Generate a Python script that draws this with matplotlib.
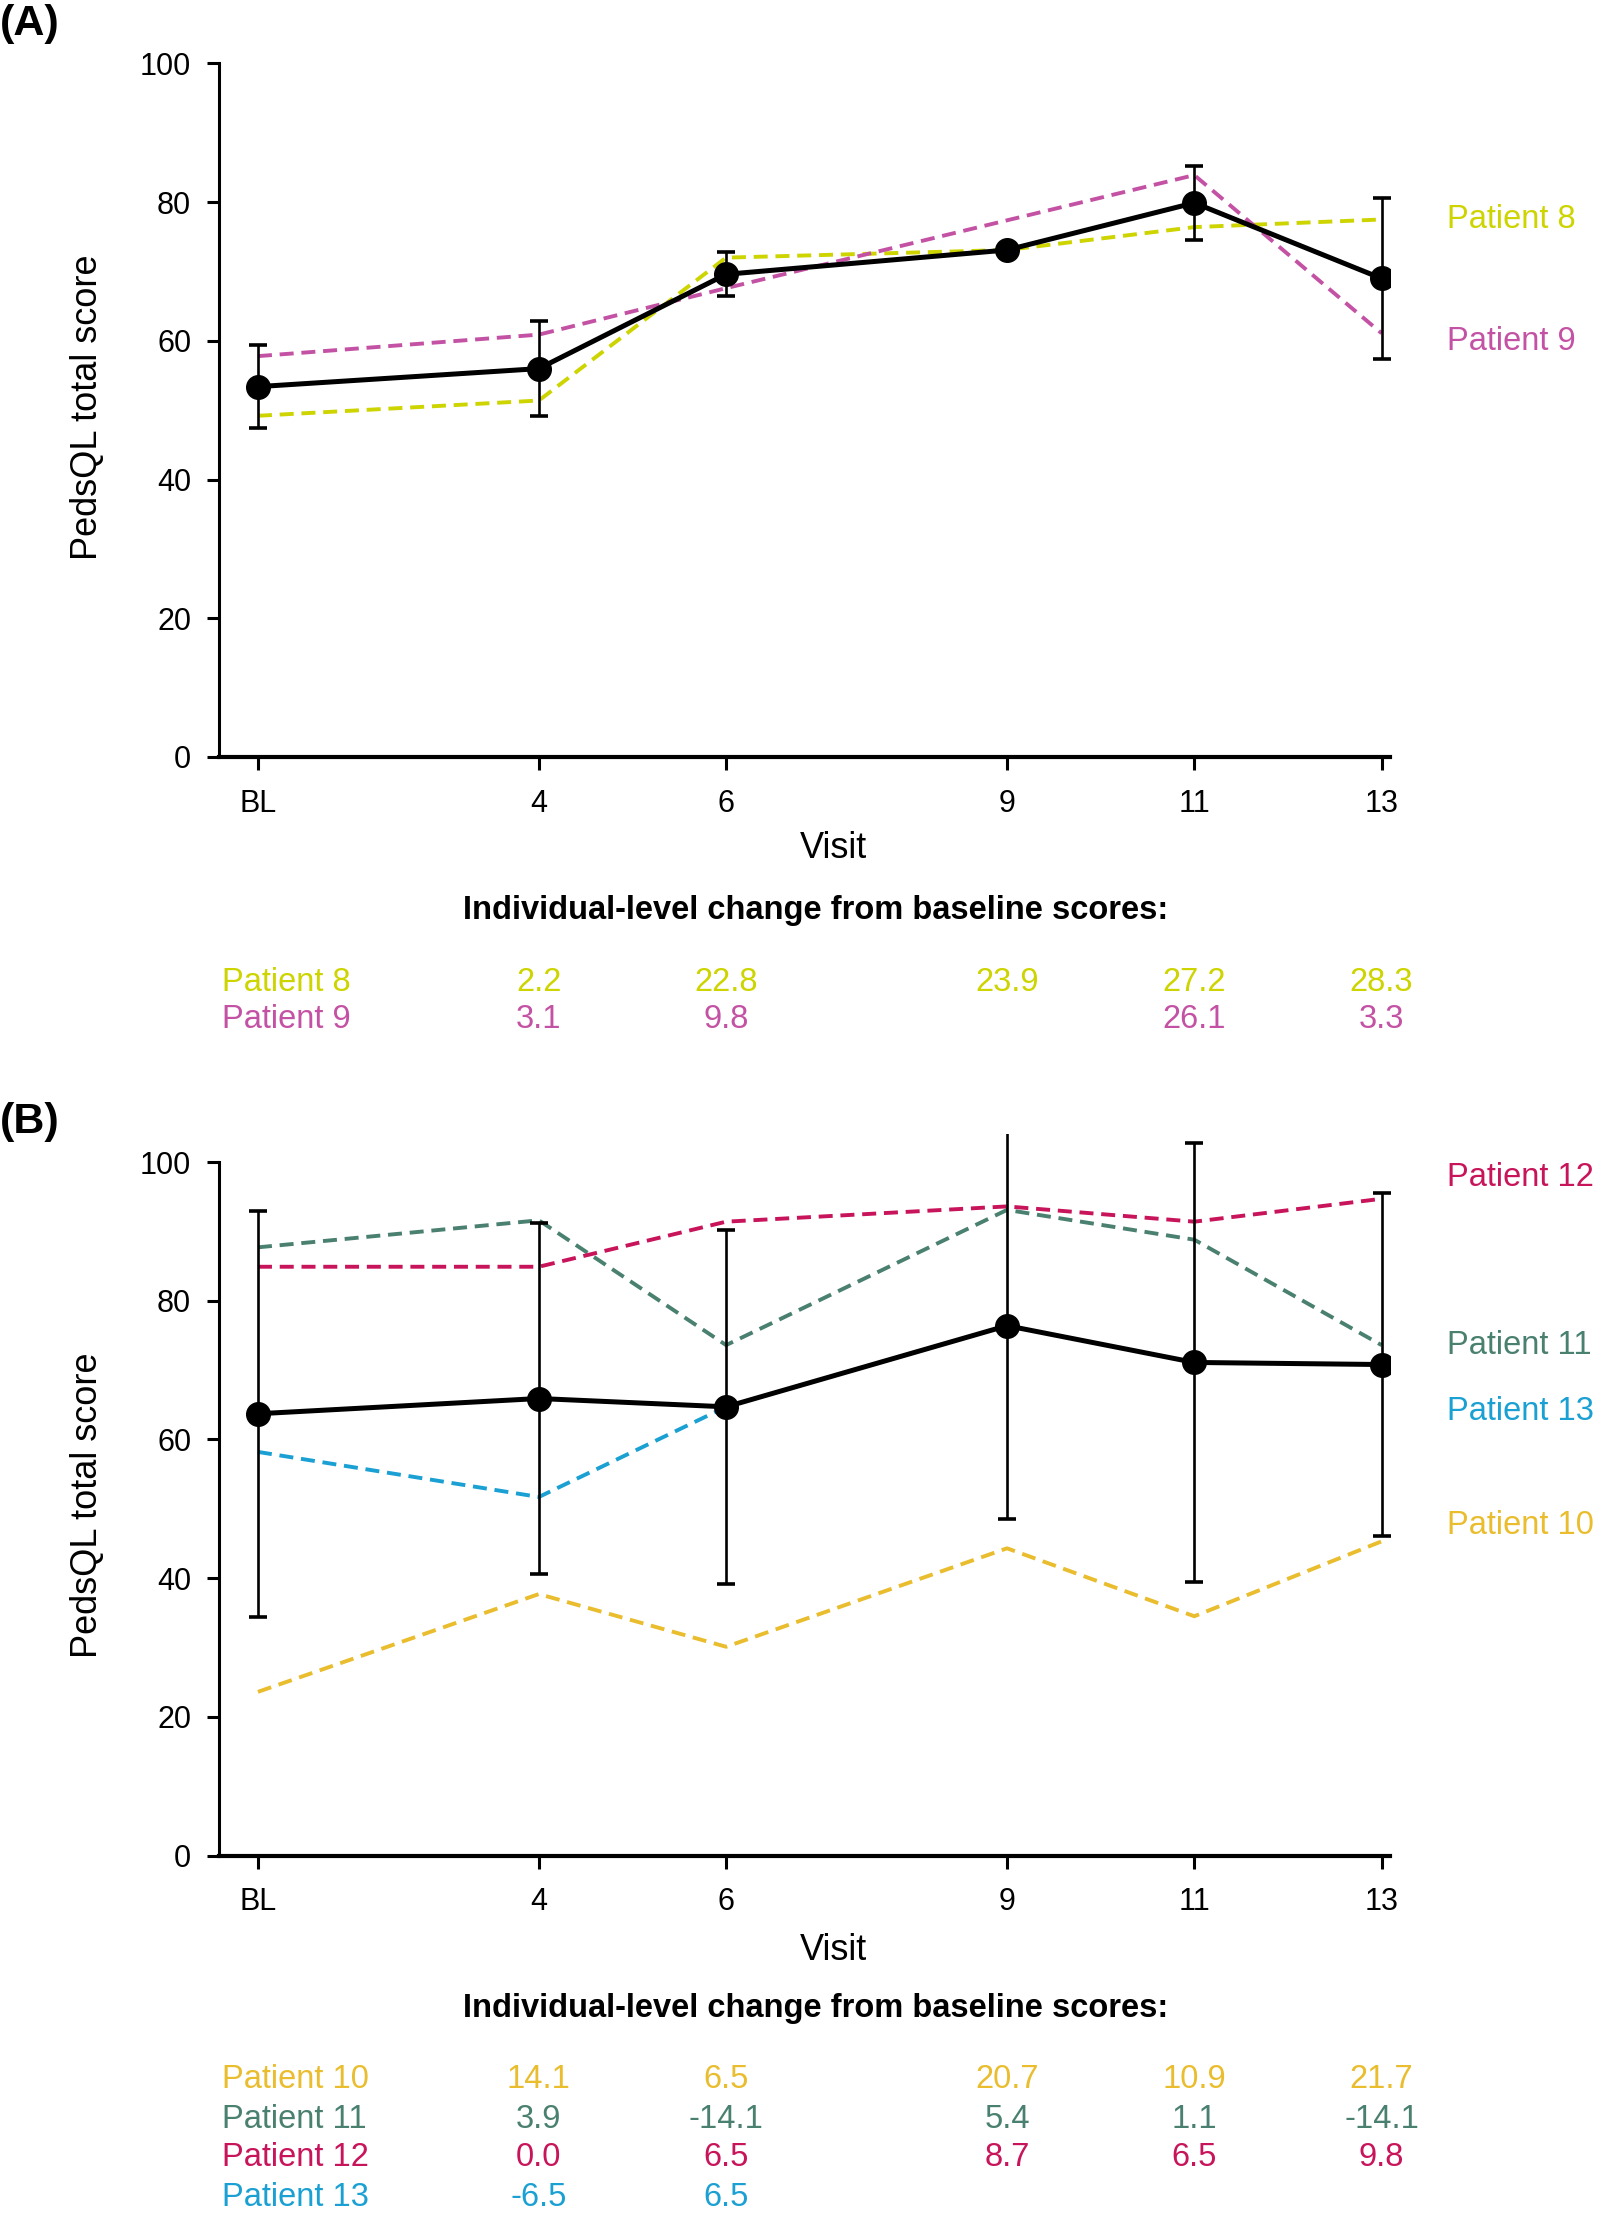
import matplotlib
matplotlib.use("Agg")
import matplotlib.pyplot as plt
import matplotlib.transforms as mtransforms
import numpy as np

plt.rcParams['font.family'] = ['Liberation Sans', 'DejaVu Sans']

# ---------------- data ----------------
visits = [1, 4, 6, 9, 11, 13]
visit_labels = ['BL', '4', '6', '9', '11', '13']

# Panel A
meanA = [53.4, 56.0, 69.6, 73.1, 79.9, 69.0]
sdA = [6.0, 6.8, 3.2, 0.0, 5.3, 11.6]
p8 = [49.2, 51.4, 72.0, 73.1, 76.4, 77.5]
p9 = [57.8, 60.9, 67.6, np.nan, 83.9, 61.1]
chg8 = ['', '2.2', '22.8', '23.9', '27.2', '28.3']
chg9 = ['', '3.1', '9.8', '', '26.1', '3.3']

# Panel B
meanB = [63.7, 65.9, 64.7, 76.4, 71.1, 70.8]
sdB = [29.3, 25.3, 25.5, 27.9, 31.6, 24.7]
p10 = [23.6, 37.7, 30.1, 44.3, 34.5, 45.3]
p11 = [87.7, 91.6, 73.6, 93.1, 88.8, 73.6]
p12 = [84.9, 84.9, 91.4, 93.6, 91.4, 94.7]
p13 = [58.2, 51.7, 64.7, np.nan, np.nan, np.nan]
chg10 = ['', '14.1', '6.5', '20.7', '10.9', '21.7']
chg11 = ['', '3.9', '-14.1', '5.4', '1.1', '-14.1']
chg12 = ['', '0.0', '6.5', '8.7', '6.5', '9.8']
chg13 = ['', '-6.5', '6.5', '', '', '']

col8 = '#cdd400'
col9 = '#c452a4'
col10 = '#e9bd2e'
col11 = '#4a8070'
col12 = '#c8145a'
col13 = '#1aa0d2'

W, H = 1600, 2216
fig = plt.figure(figsize=(W / 100, H / 100), dpi=100)

def fx(px):
    return px / W

def fy(py):
    return 1 - py / H

TICK_FS = 22
LAB_FS = 26
TXT_FS = 23.5

def make_axes(top_px, bottom_px):
    ax = fig.add_axes([fx(219), fy(bottom_px), fx(1390) - fx(219), (bottom_px - top_px) / H])
    ax.set_xlim(0.584, 13.09)
    ax.set_ylim(0, 104)
    for s in ['top', 'right']:
        ax.spines[s].set_visible(False)
    ax.spines['left'].set_bounds(0, 100)
    ax.spines['left'].set_linewidth(2.2)
    ax.spines['bottom'].set_linewidth(3.0)
    ax.set_yticks([0, 20, 40, 60, 80, 100])
    ax.set_xticks(visits)
    ax.set_xticklabels(visit_labels)
    ax.tick_params(axis='both', length=9, width=2.2, labelsize=TICK_FS)
    ax.tick_params(axis='x', pad=14)
    ax.tick_params(axis='y', pad=11)
    return ax

def patient_line(ax, vals, color):
    x = np.array(visits, dtype=float)
    y = np.array(vals, dtype=float)
    m = ~np.isnan(y)
    ax.plot(x[m], y[m], color=color, lw=2.8, dashes=(3.6, 2.0), zorder=2, clip_on=False)

def mean_line(ax, vals, sds):
    ax.errorbar(visits, vals, yerr=sds, color='black', lw=3.6, marker='o', markersize=17,
                ecolor='black', elinewidth=1.9, capsize=6.5, capthick=2.6, zorder=3)

# ---------------- Panel A ----------------
axA = make_axes(35.7, 757)
patient_line(axA, p8, col8)
patient_line(axA, p9, col9)
mean_line(axA, meanA, sdA)

# ---------------- Panel B ----------------
axB = make_axes(1134.3, 1855.5)
patient_line(axB, p10, col10)
patient_line(axB, p11, col11)
patient_line(axB, p12, col12)
patient_line(axB, p13, col13)
mean_line(axB, meanB, sdB)

# labels
for ax, ylab_y, visit_y, plabel, plabel_y in [
        (axA, 407, 849, '(A)', 24),
        (axB, 1505, 1950, '(B)', 1122)]:
    fig.text(fx(88), fy(ylab_y), 'PedsQL total score', rotation=90, ha='center', va='center',
             fontsize=LAB_FS)
    fig.text(fx(833), fy(visit_y), 'Visit', ha='center', va='center', fontsize=LAB_FS)
    fig.text(0.0, fy(plabel_y), plabel, ha='left', va='center', fontsize=31, fontweight='bold')

# right-side patient labels
for txt, col, ypx in [('Patient 8', col8, 219), ('Patient 9', col9, 342),
                      ('Patient 12', col12, 1177), ('Patient 11', col11, 1345),
                      ('Patient 13', col13, 1412), ('Patient 10', col10, 1525)]:
    fig.text(fx(1447), fy(ypx), txt, color=col, ha='left', va='center', fontsize=TXT_FS)

# tables
def table(ax, title_y, rows):
    fig.text(0.51, fy(title_y), 'Individual-level change from baseline scores:', ha='center',
             va='center', fontsize=TXT_FS, fontweight='bold')
    trans = mtransforms.blended_transform_factory(ax.transData, fig.transFigure)
    for name, col, chg, ypx in rows:
        fig.text(fx(222), fy(ypx), name, color=col, ha='left', va='center', fontsize=TXT_FS)
        for v, c in zip(visits, chg):
            if c:
                ax.text(v, fy(ypx), c, color=col, ha='center', va='center', fontsize=TXT_FS,
                        transform=trans, clip_on=False)

table(axA, 910, [('Patient 8', col8, chg8, 982), ('Patient 9', col9, chg9, 1020)])
table(axB, 2009, [('Patient 10', col10, chg10, 2080), ('Patient 11', col11, chg11, 2119),
                  ('Patient 12', col12, chg12, 2158), ('Patient 13', col13, chg13, 2197)])

fig.savefig('out.png', dpi=100)
